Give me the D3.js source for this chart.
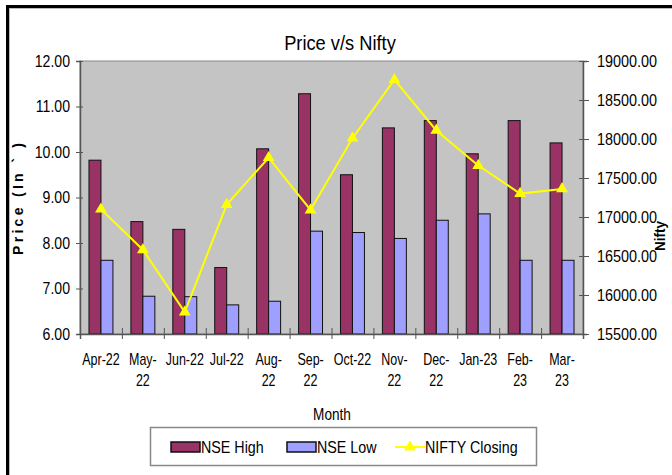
<!DOCTYPE html>
<html>
<head>
<meta charset="utf-8">
<script src="https://cdn.jsdelivr.net/npm/d3@7"></script>
<style>
  body { margin: 0; background: #fff; }
  text { font-family: "Liberation Sans", Arial, sans-serif; fill: #000; }
</style>
</head>
<body>
<div id="chart"></div>
<script>
var svgWidth = 672;
var svgHeight = 475;

// chart data
var months = ["Apr-22", "May-22", "Jun-22", "Jul-22", "Aug-22", "Sep-22",
  "Oct-22", "Nov-22", "Dec-22", "Jan-23", "Feb-23", "Mar-23"];
var monthLabels = [["Apr-22"], ["May-", "22"], ["Jun-22"], ["Jul-22"], ["Aug-", "22"], ["Sep-", "22"],
  ["Oct-22"], ["Nov-", "22"], ["Dec-", "22"], ["Jan-23"], ["Feb-", "23"], ["Mar-", "23"]];
var nseHigh = [9.82, 8.47, 8.30, 7.46, 10.07, 11.28, 9.50, 10.53, 10.69, 9.96, 10.69, 10.20];
var nseLow = [7.62, 6.83, 6.82, 6.64, 6.72, 8.26, 8.23, 8.10, 8.50, 8.64, 7.62, 7.62];
var niftyClosing = [17100, 16580, 15780, 17160, 17760, 17090, 18010, 18760, 18110, 17660, 17300, 17360];
var priceTicks = [6, 7, 8, 9, 10, 11, 12];
var niftyTicks = [15500, 16000, 16500, 17000, 17500, 18000, 18500, 19000];

var plot = { left: 80, right: 583, top: 61, bottom: 334 };

// squeeze text horizontally (the original uses a narrow face)
function condense(sel, k) {
  sel.each(function() {
    var w = this.getComputedTextLength();
    d3.select(this)
      .attr("textLength", w * k)
      .attr("lengthAdjust", "spacingAndGlyphs");
  });
}

var svg = d3.select("#chart")
  .append("svg")
  .attr("width", svgWidth)
  .attr("height", svgHeight);

// outer frame
svg.append("rect")
  .attr("x", 7.5).attr("y", 6.5)
  .attr("width", 720).attr("height", 520)
  .attr("fill", "none")
  .attr("stroke", "#000")
  .attr("stroke-width", 3);
svg.append("rect")
  .attr("x", 9.5).attr("y", 8.5)
  .attr("width", 720).attr("height", 520)
  .attr("fill", "none")
  .attr("stroke", "#bbb")
  .attr("stroke-width", 1);

// scales
var x0 = d3.scaleBand()
  .domain(months)
  .range([plot.left, plot.right])
  .paddingInner(0.4286)
  .paddingOuter(0.2143);

var x1 = d3.scaleBand()
  .domain(["high", "low"])
  .range([0, x0.bandwidth()]);

var yLeft = d3.scaleLinear().domain([6, 12]).range([plot.bottom, plot.top]);
var yRight = d3.scaleLinear().domain([15500, 19000]).range([plot.bottom, plot.top]);
var xEdge = d3.scaleLinear().domain([0, months.length]).range([plot.left, plot.right]);

// plot area
svg.append("rect")
  .attr("x", plot.left).attr("y", plot.top)
  .attr("width", plot.right - plot.left)
  .attr("height", plot.bottom - plot.top)
  .attr("fill", "#c4c4c4")
  .attr("stroke", "#8a8a8a")
  .attr("stroke-width", 1);

// bars
var groups = svg.selectAll(".month")
  .data(months)
  .enter()
  .append("g")
  .attr("class", "month")
  .attr("transform", d => `translate(${x0(d)},0)`);

groups.append("rect")
  .attr("x", x1("high"))
  .attr("y", (d, i) => yLeft(nseHigh[i]))
  .attr("width", x1.bandwidth())
  .attr("height", (d, i) => yLeft(6) - yLeft(nseHigh[i]))
  .attr("fill", "#993366")
  .attr("stroke", "#111")
  .attr("stroke-width", 1);

groups.append("rect")
  .attr("x", x1("low"))
  .attr("y", (d, i) => yLeft(nseLow[i]))
  .attr("width", x1.bandwidth())
  .attr("height", (d, i) => yLeft(6) - yLeft(nseLow[i]))
  .attr("fill", "#9f9fff")
  .attr("stroke", "#111")
  .attr("stroke-width", 1);

// left axis
var leftAxis = svg.append("g")
  .attr("transform", `translate(${plot.left},0)`)
  .call(d3.axisLeft(yLeft).tickValues(priceTicks).tickFormat(d3.format(".2f")).tickSize(4).tickPadding(6));
leftAxis.select(".domain").attr("stroke", "#555").attr("stroke-width", 1.5);
leftAxis.selectAll(".tick line").attr("x1", -4).attr("x2", 3).attr("stroke", "#555");
leftAxis.selectAll("text").style("font-size", "16px").attr("fill", "#000").call(condense, 0.88);

// right axis
var rightAxis = svg.append("g")
  .attr("transform", `translate(${plot.right},0)`)
  .call(d3.axisRight(yRight).tickValues(niftyTicks).tickFormat(d3.format(".2f")).tickSize(4).tickPadding(10));
rightAxis.select(".domain").attr("stroke", "#555").attr("stroke-width", 1.5);
rightAxis.selectAll(".tick line").attr("x1", -4).attr("x2", 6).attr("stroke", "#555");
rightAxis.selectAll("text").style("font-size", "16px").attr("fill", "#000").call(condense, 0.9);

// bottom axis (ticks at category boundaries)
var bottomAxis = svg.append("g")
  .attr("transform", `translate(0,${plot.bottom})`)
  .call(d3.axisBottom(xEdge).tickValues(d3.range(0, months.length + 1)).tickFormat("").tickSize(5));
bottomAxis.select(".domain").attr("stroke", "#555").attr("stroke-width", 1.5);
bottomAxis.selectAll(".tick line").attr("y1", -6).attr("y2", 5).attr("stroke", "#555");

// category labels, one text per line, squeezed with a scale transform
months.forEach(function(m, i) {
  monthLabels[i].forEach(function(lineText, j) {
    svg.append("text")
      .attr("transform", `translate(${x0(m) + x0.bandwidth() / 2},${plot.bottom + 31 + j * 21}) scale(0.78,1)`)
      .attr("text-anchor", "middle")
      .style("font-size", "16px")
      .text(lineText);
  });
});

// nifty line
var line = d3.line()
  .x((d, i) => x0(months[i]) + x0.bandwidth() / 2)
  .y(d => yRight(d));

svg.append("path")
  .datum(niftyClosing)
  .attr("d", line)
  .attr("fill", "none")
  .attr("stroke", "#ffff00")
  .attr("stroke-width", 2);

var tri = d3.symbol().type(d3.symbolTriangle).size(60);
svg.selectAll(".marker")
  .data(niftyClosing)
  .enter()
  .append("path")
  .attr("class", "marker")
  .attr("d", tri)
  .attr("transform", (d, i) => `translate(${x0(months[i]) + x0.bandwidth() / 2},${yRight(d)})`)
  .attr("fill", "#ffff00");

// titles
svg.append("text")
  .attr("x", 340)
  .attr("y", 50)
  .attr("text-anchor", "middle")
  .style("font-size", "21px")
  .text("Price v/s Nifty")
  .call(condense, 0.87);

svg.append("text")
  .attr("transform", "translate(23,199) rotate(-90)")
  .attr("text-anchor", "middle")
  .style("font-size", "14px")
  .style("font-weight", "bold")
  .style("white-space", "pre")
  .attr("textLength", 112)
  .attr("lengthAdjust", "spacing")
  .text("Price (In ` )");

svg.append("text")
  .attr("transform", "translate(665,236) rotate(-90)")
  .attr("text-anchor", "middle")
  .style("font-size", "15px")
  .style("font-weight", "bold")
  .text("Nifty")
  .call(condense, 0.9);

svg.append("text")
  .attr("x", 332)
  .attr("y", 420)
  .attr("text-anchor", "middle")
  .style("font-size", "16px")
  .text("Month")
  .call(condense, 0.85);

// legend
var legend = svg.append("g");
legend.append("rect")
  .attr("x", 150.5).attr("y", 427.5)
  .attr("width", 386).attr("height", 38)
  .attr("fill", "#fff")
  .attr("stroke", "#888")
  .attr("stroke-width", 1.5);

var legendItems = [
  { label: "NSE High", color: "#993366", type: "bar", x: 171 },
  { label: "NSE Low", color: "#9f9fff", type: "bar", x: 287 },
  { label: "NIFTY Closing", color: "#ffff00", type: "line", x: 395 }
];

legendItems.forEach(function(item) {
  if (item.type === "bar") {
    legend.append("rect")
      .attr("x", item.x).attr("y", 442)
      .attr("width", 29).attr("height", 10)
      .attr("fill", item.color)
      .attr("stroke", "#111")
      .attr("stroke-width", 1.5);
  } else {
    legend.append("line")
      .attr("x1", item.x).attr("x2", item.x + 30)
      .attr("y1", 447).attr("y2", 447)
      .attr("stroke", item.color)
      .attr("stroke-width", 2);
    legend.append("path")
      .attr("d", tri)
      .attr("transform", `translate(${item.x + 15},447)`)
      .attr("fill", item.color);
  }
  legend.append("text")
    .attr("x", item.x + 30)
    .attr("y", 453)
    .style("font-size", "17px")
    .text(item.label)
    .call(condense, 0.84);
});
</script>
</body>
</html>
